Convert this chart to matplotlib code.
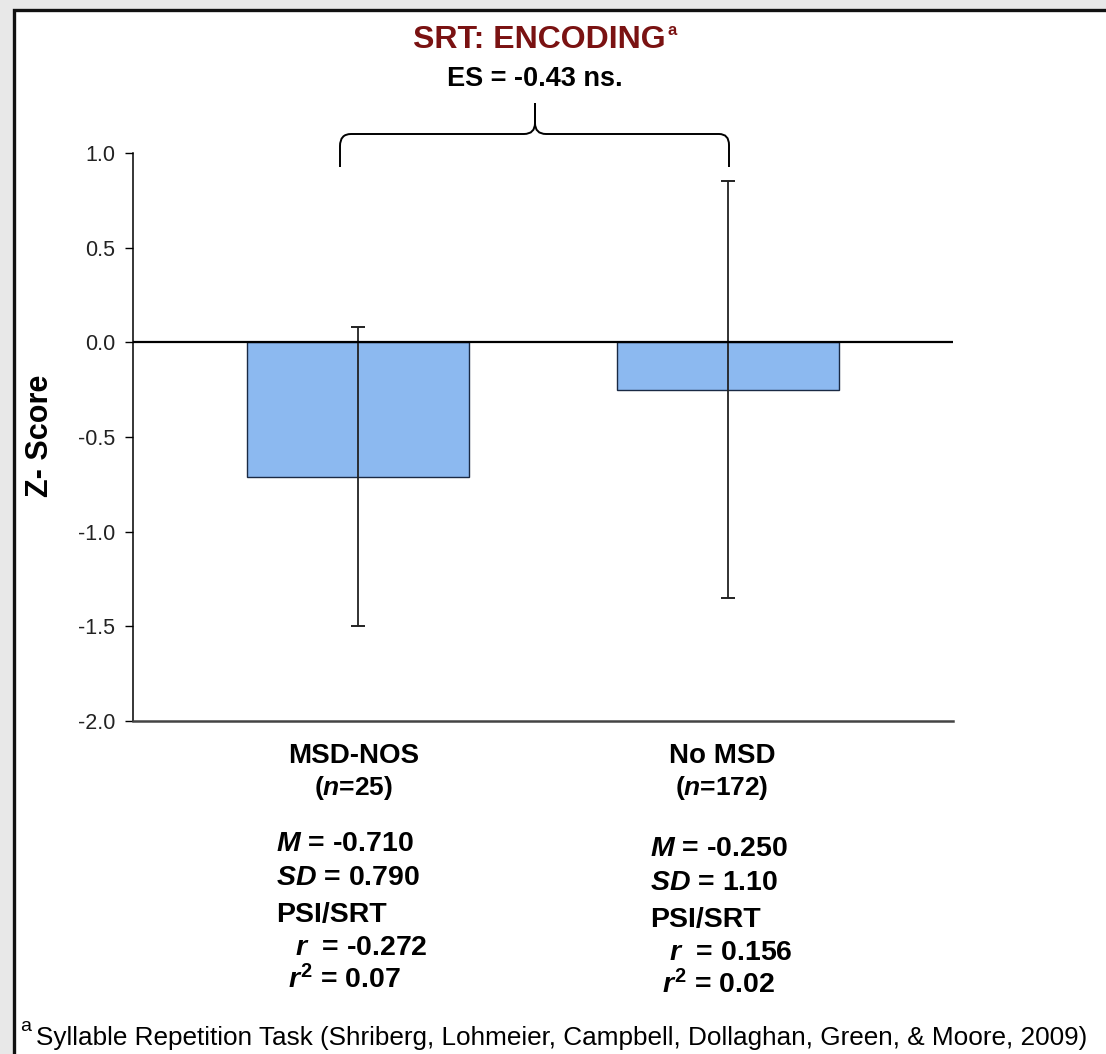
import matplotlib
matplotlib.use("Agg")
import matplotlib.pyplot as plt
from matplotlib.path import Path
from matplotlib.patches import PathPatch, Rectangle

# ---- data -------------------------------------------------------------
groups = ["MSD-NOS", "No MSD"]
group_n = [25, 172]
means = [-0.710, -0.250]
sds = [0.790, 1.10]
r_values = ["-0.272", "0.156"]
r2_values = ["0.07", "0.02"]
mean_labels = ["-0.710", "-0.250"]
sd_labels = ["0.790", "1.10"]
yticks = [1.0, 0.5, 0.0, -0.5, -1.0, -1.5, -2.0]
effect_size = "-0.43"

# ---- style ------------------------------------------------------------
plt.rcParams["font.family"] = ["Liberation Sans", "DejaVu Sans"]
plt.rcParams["axes.unicode_minus"] = False
plt.rcParams["mathtext.fontset"] = "custom"
plt.rcParams["mathtext.rm"] = "Liberation Sans:bold"
plt.rcParams["mathtext.bf"] = "Liberation Sans:bold"
plt.rcParams["mathtext.it"] = "Liberation Sans:italic:bold"

W, H = 1106, 1054
fig = plt.figure(figsize=(W / 100, H / 100), dpi=100)
fig.patch.set_facecolor("#e8e8e8")


def fx(px):
    return px / W


def fy(py):
    return 1 - py / H


# white panel with dark frame
panel = Rectangle((fx(14), fy(1100)), fx(1200), fy(10) - fy(1100),
                  transform=fig.transFigure, facecolor="white",
                  edgecolor="#111111", linewidth=2.4, zorder=-10)
fig.patches.append(panel)

ax = fig.add_axes([fx(133), fy(721), fx(953) - fx(133), fy(153) - fy(721)])
ax.set_facecolor("none")
ax.set_zorder(2)

x = list(range(len(groups)))
ax.bar(x, means, width=0.6, color="#8cb9f0", edgecolor="#1a2a44",
       linewidth=1.0, zorder=2)
ax.errorbar(x, means, yerr=sds, fmt="none", ecolor="#222222",
            elinewidth=1.3, capsize=5, capthick=1.4, zorder=3)
ax.axhline(0, color="black", linewidth=1.6, zorder=4)

ax.set_xlim(-0.608, 1.608)
ax.set_ylim(-2.0, 1.0)
ax.set_yticks(yticks)
ax.set_yticklabels([f"{v:.1f}" for v in yticks], fontsize=15.5, color="#222222")
ax.set_xticks([])
ax.tick_params(axis="y", direction="out", length=6, width=1.0, pad=7)
for side in ("top", "right"):
    ax.spines[side].set_visible(False)
ax.spines["left"].set_linewidth(1.1)
ax.spines["bottom"].set_linewidth(1.8)
ax.spines["bottom"].set_color("#444444")

fig.text(fx(40), fy(436), "Z- Score", fontsize=22, fontweight="bold",
         rotation=90, ha="center", va="center")

# title and effect size
title = fig.text(fx(539), fy(48), "SRT: ENCODING", fontsize=23,
                 fontweight="bold", color="#7a1212", ha="center",
                 va="baseline")
fig.text(fx(667), fy(35), "a", fontsize=12, fontweight="bold",
         color="#7a1212", ha="left", va="baseline")
fig.text(fx(535), fy(86), f"ES = {effect_size} ns.", fontsize=19.5,
         fontweight="bold", ha="center", va="baseline")

# curly brace linking the two groups
pts = [(340, 167), (340, 146), (340, 134), (351, 134), (524, 134),
       (535, 134), (535, 123), (535, 103), (535, 123), (535, 134),
       (546, 134), (719, 134), (729, 134), (729, 145), (729, 167)]
codes = [Path.MOVETO, Path.LINETO, Path.CURVE3, Path.CURVE3, Path.LINETO,
         Path.CURVE3, Path.CURVE3, Path.LINETO, Path.LINETO, Path.CURVE3,
         Path.CURVE3, Path.LINETO, Path.CURVE3, Path.CURVE3, Path.LINETO]
brace = Path([(fx(a), fy(b)) for a, b in pts], codes)
fig.patches.append(PathPatch(brace, transform=fig.transFigure,
                             facecolor="none", edgecolor="black",
                             linewidth=1.4))

# group labels and statistics beneath the axis
label_cx = [354, 722]
stat_x = [276, 650]
stat_dy = [0, 5]
for i in range(len(groups)):
    fig.text(fx(label_cx[i]), fy(763), groups[i], fontsize=20,
             fontweight="bold", ha="center", va="baseline")
    fig.text(fx(label_cx[i]), fy(795), f"($n$={group_n[i]})", fontsize=19,
             fontweight="bold", ha="center", va="baseline")
    d = stat_dy[i]
    fig.text(fx(stat_x[i]), fy(851 + d), f"$M$ = {mean_labels[i]}",
             fontsize=20.5, fontweight="bold", va="baseline")
    fig.text(fx(stat_x[i]), fy(885 + d), f"$SD$ = {sd_labels[i]}",
             fontsize=20.5, fontweight="bold", va="baseline")
    fig.text(fx(stat_x[i]), fy(922 + d), "PSI/SRT",
             fontsize=20.5, fontweight="bold", va="baseline")
    fig.text(fx(stat_x[i] + 19), fy(955 + d), f"$r$  = {r_values[i]}",
             fontsize=20.5, fontweight="bold", va="baseline")
    fig.text(fx(stat_x[i] + 12), fy(988 + d), f"$r^2$ = {r2_values[i]}",
             fontsize=20.5, fontweight="bold", va="baseline")

# footnote
fig.text(fx(20), fy(1031), "a", fontsize=14, va="baseline")
fig.text(fx(36), fy(1045),
         "Syllable Repetition Task (Shriberg, Lohmeier, Campbell, "
         "Dollaghan, Green, & Moore, 2009)",
         fontsize=18.8, va="baseline")

fig.savefig("out.png", dpi=100, facecolor=fig.get_facecolor())
